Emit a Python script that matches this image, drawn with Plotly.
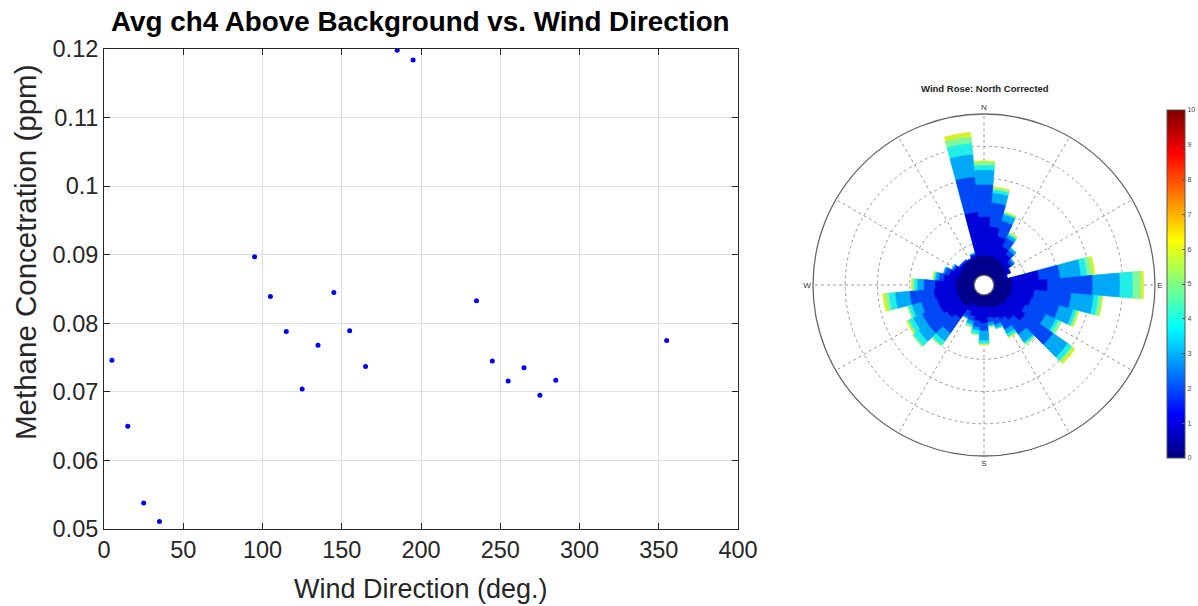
import plotly.graph_objects as go

# ---------------- Left panel data ----------------
wind_dir = [5, 15, 25, 35, 95, 105, 115, 125, 135, 145, 155, 165,
            185, 195, 235, 245, 255, 265, 275, 285, 355]
ch4_above_bg = [0.0746, 0.0650, 0.0538, 0.0511, 0.0897, 0.0839, 0.0788, 0.0704,
                0.0768, 0.0845, 0.0789, 0.0737, 0.1198, 0.1184, 0.0833, 0.0745,
                0.0716, 0.0735, 0.0695, 0.0717, 0.0775]
x_ticks = [0, 50, 100, 150, 200, 250, 300, 350, 400]
y_ticks = [0.05, 0.06, 0.07, 0.08, 0.09, 0.10, 0.11, 0.12]
y_ticktext = ["0.05", "0.06", "0.07", "0.08", "0.09", "0.1", "0.11", "0.12"]

# ---------------- Wind rose data (cumulative frequency per speed class) ----------------
rose_dirs = list(range(0, 360, 10))
speed_classes = ["0-1", "1-2", "2-3", "3-4", "4-5", "5-6", "6-7"]
cum_0_1 = [1.2, 1.2, 1.2, 1.1, 1.1, 1.0, 0.9, 0.7, 1.1, 1.1, 1.1, 1.1, 1.0, 1.0, 0.9, 0.9,
           0.8, 0.7, 0.7, 0.7, 0.7, 0.7, 1.0, 1.1, 1.1, 1.1, 1.1, 1.1, 1.1, 1.0, 1.0, 1.0,
           1.1, 1.1, 1.1, 1.2]
cum_1_2 = [3.6, 3.0, 2.5, 2.0, 1.7, 1.4, 1.2, 0.9, 2.8, 3.3, 2.5, 2.4, 2.2, 2.5, 2.0, 1.7,
           1.5, 1.4, 1.7, 1.6, 1.4, 1.2, 1.9, 2.2, 2.4, 2.4, 2.5, 2.4, 1.9, 1.6, 1.4, 1.2,
           1.2, 1.2, 1.3, 3.9]
cum_2_3 = [5.6, 4.5, 3.5, 2.6, 2.0, 1.6, 1.2, 0.9, 4.1, 6.1, 4.8, 4.2, 3.6, 4.6, 3.1, 2.4,
           1.9, 1.7, 2.2, 2.0, 1.7, 1.6, 3.0, 3.6, 3.6, 3.4, 4.0, 3.1, 2.2, 1.9, 1.5, 1.3,
           1.3, 1.2, 1.4, 6.1]
cum_3_4 = [6.5, 5.1, 3.9, 2.8, 2.2, 1.7, 1.2, 0.9, 5.4, 7.8, 6.2, 5.1, 4.3, 5.7, 3.7, 2.7,
           2.1, 1.9, 2.8, 2.2, 1.9, 1.7, 3.6, 4.3, 4.2, 4.0, 4.9, 3.5, 2.4, 2.0, 1.6, 1.3,
           1.3, 1.2, 1.4, 7.5]
cum_4_5 = [6.8, 5.3, 4.0, 2.9, 2.2, 1.7, 1.2, 0.9, 5.8, 8.6, 6.5, 5.3, 4.5, 6.0, 3.8, 2.9,
           2.2, 1.9, 3.0, 2.4, 2.0, 1.7, 3.9, 4.7, 4.5, 4.2, 5.3, 3.7, 2.5, 2.0, 1.6, 1.3,
           1.3, 1.2, 1.4, 8.2]
cum_5_6 = [7.0, 5.4, 4.0, 2.9, 2.2, 1.7, 1.2, 0.9, 6.1, 9.1, 6.7, 5.4, 4.7, 6.1, 3.9, 2.9,
           2.2, 2.0, 3.0, 2.5, 2.1, 1.7, 4.0, 4.8, 4.6, 4.3, 5.5, 3.8, 2.5, 2.0, 1.6, 1.3,
           1.3, 1.2, 1.5, 8.6]
cum_6_7 = [7.1, 5.5, 4.1, 3.0, 2.2, 1.7, 1.2, 0.9, 6.3, 9.3, 6.8, 5.5, 4.7, 6.3, 3.9, 3.0,
           2.2, 2.0, 3.1, 2.5, 2.1, 1.7, 4.0, 4.8, 4.7, 4.3, 5.7, 3.9, 2.6, 2.0, 1.6, 1.3,
           1.3, 1.2, 1.5, 8.9]
cum_series = [cum_0_1, cum_1_2, cum_2_3, cum_3_4, cum_4_5, cum_5_6, cum_6_7]
class_colors = ["#00008C", "#0000D8", "#0048F5", "#00A8F8", "#22EEE8", "#80F8A0", "#D8F028"]

cbar_ticks = list(range(0, 11))
jet = [[0.0, "rgb(0,0,128)"], [0.125, "rgb(0,0,255)"], [0.375, "rgb(0,255,255)"],
       [0.625, "rgb(255,255,0)"], [0.875, "rgb(255,0,0)"], [1.0, "rgb(128,0,0)"]]

W, H = 1198, 606
FONT = "Liberation Sans, Arial, Helvetica, sans-serif"
AX = "#262626"

fig = go.Figure()

fig.add_trace(go.Scatter(
    x=wind_dir, y=ch4_above_bg, mode="markers",
    marker=dict(color="#0000F0", size=5, line=dict(width=0)),
    xaxis="x", yaxis="y", showlegend=False, hoverinfo="x+y"))

# wind rose: draw largest cumulative first, smaller on top
for name, cum, col in reversed(list(zip(speed_classes, cum_series, class_colors))):
    fig.add_trace(go.Barpolar(
        r=cum, theta=rose_dirs, width=[10] * len(rose_dirs), name=name,
        marker=dict(color=col, line=dict(color=col, width=0.6)),
        subplot="polar", showlegend=False))

# colorbar carrier (invisible point)
fig.add_trace(go.Scatter(
    x=[200], y=[0.09], mode="markers", xaxis="x", yaxis="y",
    marker=dict(size=1, opacity=0, color=[0], colorscale=jet, cmin=0, cmax=10,
                showscale=True,
                colorbar=dict(x=1167 / W, xanchor="left", xpad=0, ypad=0,
                              y=(H - 284) / H, yanchor="middle",
                              len=348 / H, lenmode="fraction",
                              thickness=18, thicknessmode="pixels",
                              tickvals=cbar_ticks, ticks="inside", ticklen=3,
                              tickcolor="#555", outlinecolor="#555", outlinewidth=1,
                              tickfont=dict(size=7, color="#444", family=FONT))),
    showlegend=False, hoverinfo="skip"))

axis_common = dict(showgrid=True, gridcolor="#dedede", gridwidth=1, zeroline=False,
                   showline=True, linecolor=AX, linewidth=1, mirror="ticks",
                   ticks="inside", ticklen=6, tickcolor=AX, automargin=False,
                   tickfont=dict(size=23.5, color=AX, family=FONT))

fig.update_layout(
    width=W, height=H,
    margin=dict(l=0, r=0, t=0, b=0, autoexpand=False),
    paper_bgcolor="white", plot_bgcolor="white",
    font=dict(family=FONT, color=AX),
    xaxis=dict(domain=[104 / W, 738 / W], range=[0, 400], tickvals=x_ticks, **axis_common),
    yaxis=dict(domain=[(H - 529) / H, (H - 49) / H], range=[0.05, 0.12],
               tickvals=y_ticks, ticktext=y_ticktext, **axis_common),
    polar=dict(
        domain=dict(x=[813 / W, 1155 / W], y=[(H - 456) / H, (H - 114) / H]),
        bgcolor="white", hole=0.058, barmode="overlay",
        angularaxis=dict(rotation=90, direction="clockwise",
                         tickvals=list(range(0, 360, 30)),
                         ticktext=["N", "", "", "E", "", "", "S", "", "", "W", "", ""],
                         showline=True, linecolor="#666", linewidth=1.3,
                         showgrid=True, gridcolor="#9a9a9a", gridwidth=1, griddash="dot",
                         ticks="", tickfont=dict(size=8, color="#333", family=FONT)),
        radialaxis=dict(range=[0, 10], tickvals=[2, 4, 6, 8], showticklabels=False,
                        ticks="", showline=False, showgrid=True, gridcolor="#9a9a9a",
                        gridwidth=1, griddash="dot", angle=90)),
    annotations=[
        dict(text="<b>Avg ch4 Above Background vs. Wind Direction</b>", x=420 / W, y=(H - 22) / H,
             xref="paper", yref="paper", showarrow=False, xanchor="center", yanchor="middle",
             font=dict(size=27.8, color="#000", family=FONT)),
        dict(text="Wind Direction (deg.)", x=421 / W, y=(H - 589) / H,
             xref="paper", yref="paper", showarrow=False, xanchor="center", yanchor="middle",
             font=dict(size=27, color=AX, family=FONT)),
        dict(text="Methane Concetration (ppm)", x=25 / W, y=(H - 252) / H, textangle=-90,
             xref="paper", yref="paper", showarrow=False, xanchor="center", yanchor="middle",
             font=dict(size=29.5, color=AX, family=FONT)),
        dict(text="<b>Wind Rose: North Corrected</b>", x=985 / W, y=(H - 89) / H,
             xref="paper", yref="paper", showarrow=False, xanchor="center", yanchor="middle",
             font=dict(size=9.5, color="#222", family=FONT)),
    ],
)

fig.write_html("out.html", config={"displayModeBar": False},
               post_script="document.body.style.margin='0px';document.body.style.overflow='hidden';")
